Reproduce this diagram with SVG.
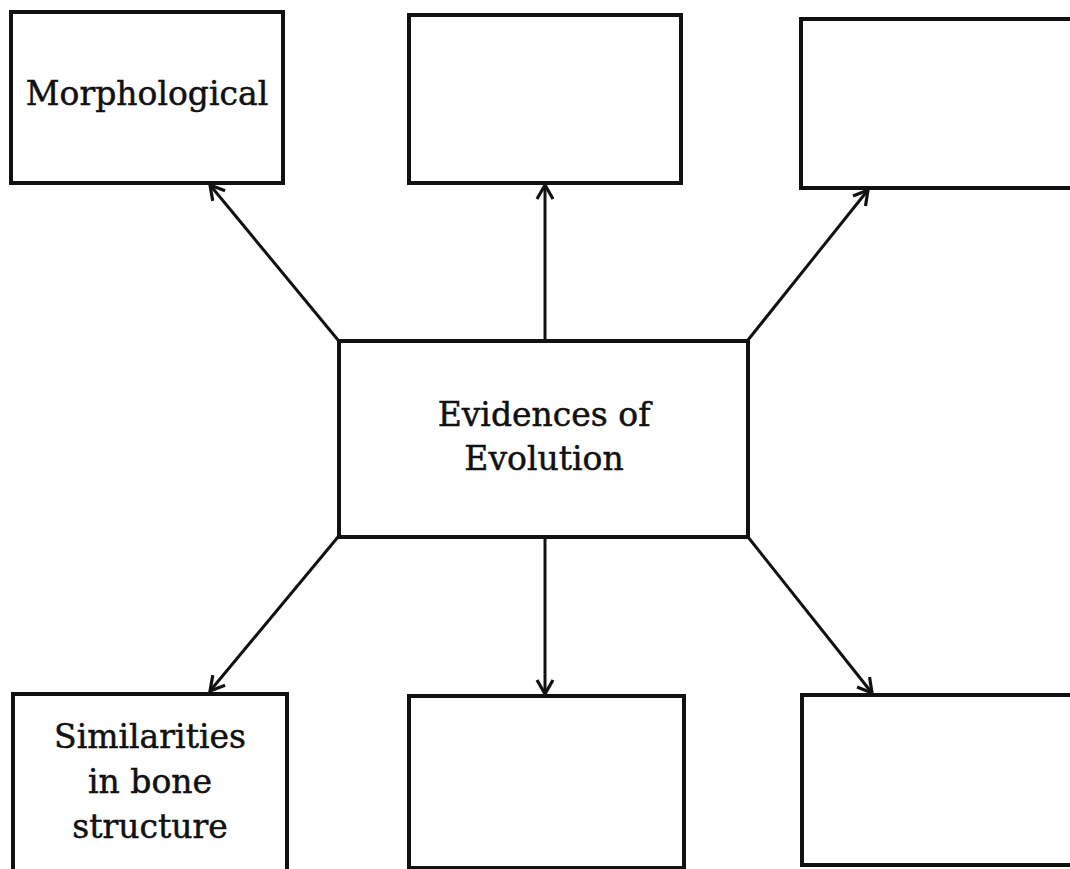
<svg xmlns="http://www.w3.org/2000/svg" width="1070" height="869" viewBox="0 0 1070 869">
<defs>
<style>
.box{fill:#fff;stroke:#111;stroke-width:4}
.lbl{font-family:"DejaVu Serif","Liberation Serif",serif;font-size:33px;fill:#111;stroke:#111;stroke-width:0.5;text-anchor:middle}
.con{stroke:#111;stroke-width:3;fill:none}
</style>
<marker id="ah" viewBox="0 0 20 20" refX="18" refY="10" markerWidth="20" markerHeight="20" markerUnits="userSpaceOnUse" orient="auto">
<path d="M4,2 L18,10 L4,18" fill="none" stroke="#111" stroke-width="3.2"/>
</marker>
</defs>
<rect width="1070" height="869" fill="#fff"/>
<g id="connectors">
<line class="con" x1="338" y1="340" x2="210" y2="185" marker-end="url(#ah)"/>
<line class="con" x1="545" y1="340" x2="545" y2="185" marker-end="url(#ah)"/>
<line class="con" x1="748" y1="340" x2="868" y2="190" marker-end="url(#ah)"/>
<line class="con" x1="338" y1="537" x2="210" y2="691" marker-end="url(#ah)"/>
<line class="con" x1="545" y1="537" x2="545" y2="694" marker-end="url(#ah)"/>
<line class="con" x1="748" y1="537" x2="872" y2="693" marker-end="url(#ah)"/>
</g>
<g id="center">
<rect class="box" x="339" y="341" width="409" height="196"/>
<text class="lbl" x="544" y="426">Evidences of</text>
<text class="lbl" x="544" y="470">Evolution</text>
</g>
<g id="top-left">
<rect class="box" x="11" y="12" width="272" height="171"/>
<text class="lbl" x="147" y="105">Morphological</text>
</g>
<g id="top-middle">
<rect class="box" x="409" y="15" width="272" height="168"/>
</g>
<g id="top-right">
<rect class="box" x="801" y="19" width="275" height="169"/>
</g>
<g id="bottom-left">
<rect class="box" x="13" y="694" width="274" height="178"/>
<text class="lbl" x="150" y="748">Similarities</text>
<text class="lbl" x="150" y="793">in bone</text>
<text class="lbl" x="150" y="838">structure</text>
</g>
<g id="bottom-middle">
<rect class="box" x="409" y="696" width="275" height="172"/>
</g>
<g id="bottom-right">
<rect class="box" x="802" y="695" width="275" height="170"/>
</g>
</svg>
